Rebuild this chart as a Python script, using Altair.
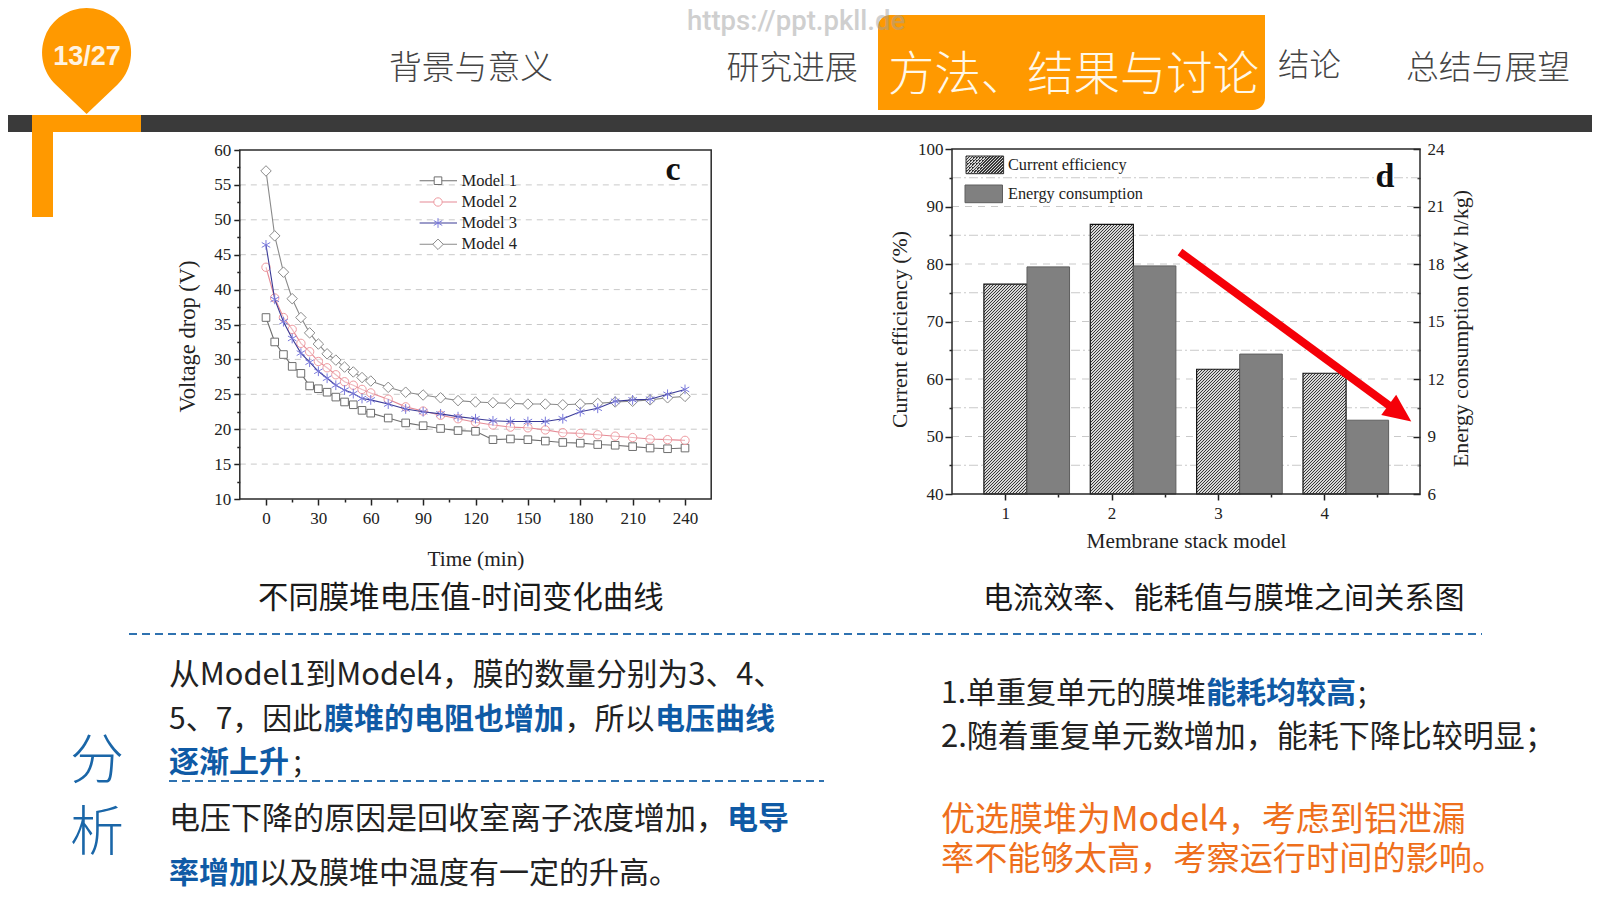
import altair as alt
import pandas as pd

# ---------- data ----------
times = [0,5,10,15,20,25,30,35,40,45,50,55,60,70,80,90,100,110,120,130,140,150,160,170,180,190,200,210,220,230,240]
model1 = [36,32.5,30.7,29,28,26.2,25.8,25.3,24.6,23.9,23.5,22.7,22.3,21.6,20.9,20.5,20.1,19.8,19.7,18.5,18.6,18.5,18.3,18.1,18.0,17.8,17.7,17.5,17.3,17.2,17.3]
model2 = [43.2,38.8,36,34.3,32.3,31.1,29.7,28.8,27.8,26.8,26.3,25.7,25.2,24.3,23.2,22.6,22,21.5,21,20.6,20.3,20.2,19.9,19.5,19.4,19.2,19,18.8,18.6,18.5,18.4]
model3 = [46.4,38.6,35.4,33,30.9,29.6,28.3,27.3,26.3,25.6,25.1,24.4,24.2,23.6,22.9,22.5,22.2,21.8,21.5,21.2,21.1,21.1,21.1,21.5,22.5,23,24,24.2,24.3,25,25.7]
model4 = [57,47.7,42.5,38.7,36,33.8,32.2,30.8,29.9,28.9,28.2,27.4,26.9,26,25.3,24.9,24.5,24.1,23.9,23.8,23.7,23.6,23.6,23.5,23.6,23.7,23.9,24,24.2,24.5,24.7]
stack_models = [1,2,3,4]
current_eff = [76.5,86.9,61.7,61.0]
energy = [17.85,17.9,13.3,9.85]

c_y_major = [10,15,20,25,30,35,40,45,50,55,60]
c_y_minor = [12.5,17.5,22.5,27.5,32.5,37.5,42.5,47.5,52.5,57.5]
c_x_major = [0,30,60,90,120,150,180,210,240]
c_x_minor = [15,45,75,105,135,165,195,225]
c_grid = [15,20,25,30,35,40,45,50,55]
d_y_major = [40,50,60,70,80,90,100]
d_y_minor = [45,55,65,75,85,95]
d_r_major = [6,9,12,15,18,21,24]
d_r_minor = [7.5,10.5,13.5,16.5,19.5,22.5]
d_x_minor = [1.5,2.5,3.5,4.5]
d_grid_major = [50,60,70,80,90]
d_grid_minor = [45,55,65,75,85,95]

nav = ["背景与意义","研究进展","方法、结果与讨论","结论","总结与展望"]
page_no = "13/27"
watermark = "https://ppt.pkll.de"
cap_c = "不同膜堆电压值-时间变化曲线"
cap_d = "电流效率、能耗值与膜堆之间关系图"

W, H = 1584, 892
SERIF = "Liberation Serif"
CJK = "Noto Sans CJK SC"
ORANGE = "#FF9900"
BLUE = "#0F5AA5"
DARK = "#222222"

def P(v):
    return v - 8

one = alt.Data(values=[{"a": 1}])
layers = []

def txt(s, x, y, size, color=DARK, weight=400, font=CJK, align="left", opacity=1):
    return alt.Chart(one).mark_text(fontSize=size, font=font, fontWeight=weight, color=color,
                                    align=align, baseline="middle", opacity=opacity).encode(
        x=alt.value(P(x)), y=alt.value(P(y)), text=alt.value(s))

def box(x0, x1, y0, y1, color, **kw):
    return alt.Chart(one).mark_rect(fill=color, **kw).encode(
        x=alt.value(P(x0)), x2=alt.value(P(x1)), y=alt.value(P(y0)), y2=alt.value(P(y1)))

def seg(x0, x1, y0, y1, color, width, **kw):
    return alt.Chart(one).mark_rule(color=color, strokeWidth=width, **kw).encode(
        x=alt.value(P(x0)), x2=alt.value(P(x1)), y=alt.value(P(y0)), y2=alt.value(P(y1)))

def glyph(shape, x, y, size, **kw):
    return alt.Chart(one).mark_point(shape=shape, size=size, **kw).encode(
        x=alt.value(P(x)), y=alt.value(P(y)))

# ---------- header ----------
layers += [
    box(0, 1600, 115, 132, "#3A3A3A"),
    box(32, 141, 115, 132, ORANGE),
    box(32, 53, 132, 217, ORANGE),
    glyph("M0,1L-0.58,0.448A0.84,0.84,0,1,1,0.58,0.448Z", 86.6, 61, 106**2, filled=True, fill=ORANGE, stroke=ORANGE, strokeWidth=0, opacity=1),
    txt(page_no, 87, 57, 27, "#FFF3E0", 700, "Liberation Sans", "center"),
    box(878, 1265, 15, 110, ORANGE, cornerRadiusTopLeft=12, cornerRadiusBottomRight=12),
    txt(nav[0], 389, 69, 32.8, "#444444", 300),
    txt(nav[1], 726.5, 69, 32.8, "#444444", 300),
    txt(nav[2], 888, 76, 46.4, "#FFF8E8", 300),
    txt(nav[3], 1278, 67, 31.4, "#444444", 300),
    txt(nav[4], 1406, 69, 32.8, "#444444", 300),
]

# ---------- panel c ----------
cxs = alt.Scale(domain=[-15, 255], range=[P(239.8), P(711.2)], nice=False, zero=False)
cys = alt.Scale(domain=[10, 60], range=[P(499), P(150)], nice=False, zero=False)

def axis_layer(xs, ys, xaxis=None, yaxis=None, xv=0, yv=0):
    d = pd.DataFrame({"x": [xv], "y": [yv]})
    return alt.Chart(d).mark_point(opacity=0).encode(
        x=alt.X("x:Q", scale=xs, axis=xaxis), y=alt.Y("y:Q", scale=ys, axis=yaxis))

def tick_axis(orient, off, values, size, labels=True, title=None, **kw):
    args = dict(orient=orient, offset=off, values=values, tickSize=size, labels=labels, grid=False,
                domain=False, tickColor=DARK, tickWidth=1.5, labelFont=SERIF, labelFontSize=17,
                labelColor=DARK, labelOverlap=False, titleFont=SERIF, titleFontWeight="normal", titleColor=DARK)
    if title is not None:
        args["title"] = title
    else:
        args["title"] = ""
    args.update(kw)
    return alt.Axis(**args)

def grid(values, xs, ys, x0, x1, dash, color="#C9C9C9", width=1):
    d = pd.DataFrame({"v": values, "x0": x0, "x1": x1})
    return alt.Chart(d).mark_rule(color=color, strokeDash=dash, strokeWidth=width).encode(
        x=alt.X("x0:Q", scale=xs, axis=None), x2="x1:Q", y=alt.Y("v:Q", scale=ys, axis=None))

def frame(xs, ys, x0, x1, y0, y1, width=1.5):
    d = pd.DataFrame({"x0": [x0], "x1": [x1], "y0": [y0], "y1": [y1]})
    return alt.Chart(d).mark_rect(fillOpacity=0, stroke="#2A2A2A", strokeWidth=width).encode(
        x=alt.X("x0:Q", scale=xs, axis=None), x2="x1:Q",
        y=alt.Y("y0:Q", scale=ys, axis=None), y2="y1:Q")

layers.append(grid(c_grid, cxs, cys, -15, 255, [6, 5]))

STAR = "M0,-1L0,1M-0.87,-0.5L0.87,0.5M-0.87,0.5L0.87,-0.5"
series = [
    ("Model 1", model1, "#6E6E6E", "square", 58, "#6E6E6E", "#FFFFFF", 1),
    ("Model 4", model4, "#8A8A8A", "diamond", 110, "#8A8A8A", "#FFFFFF", 1),
    ("Model 2", model2, "#E58A95", "circle", 70, "#EE9AA0", "#FFFFFF", 0.4),
    ("Model 3", model3, "#3A3A96", STAR, 95, "#7A7ADC", "#FFFFFF", 0),
]
for name, vals, lc, shape, size, mc, fc, fo in series:
    d = pd.DataFrame({"t": times, "v": vals})
    layers.append(alt.Chart(d).mark_line(color=lc, strokeWidth=1.1).encode(
        x=alt.X("t:Q", scale=cxs, axis=None), y=alt.Y("v:Q", scale=cys, axis=None)))
    layers.append(alt.Chart(d).mark_point(shape=shape, size=size, stroke=mc, strokeWidth=1, fill=fc,
                                          fillOpacity=fo, opacity=1).encode(
        x=alt.X("t:Q", scale=cxs, axis=None), y=alt.Y("v:Q", scale=cys, axis=None)))

layers.append(frame(cxs, cys, -15, 255, 10, 60))
layers.append(axis_layer(cxs, cys, yaxis=tick_axis("left", -P(239.8), c_y_major, 6, labelPadding=3,
                                                   title="Voltage drop (V)", titleFontSize=22.5, titlePadding=14,
                                                   titleY=P(336))))
layers.append(axis_layer(cxs, cys, yaxis=tick_axis("left", -P(239.8), c_y_minor, 3, labels=False)))
layers.append(axis_layer(cxs, cys, xaxis=tick_axis("bottom", P(499) - H, c_x_major, 6, labelPadding=5,
                                                   title="Time (min)", titleFontSize=21.3, titlePadding=22)))
layers.append(axis_layer(cxs, cys, xaxis=tick_axis("bottom", P(499) - H, c_x_minor, 3, labels=False)))

# legend c (order as in figure)
legend_rows = [("Model 1", "#6E6E6E", "square", 58, "#6E6E6E", 180.7),
               ("Model 2", "#E58A95", "circle", 70, "#EE9AA0", 202),
               ("Model 3", "#3A3A96", STAR, 95, "#7A7ADC", 223),
               ("Model 4", "#8A8A8A", "diamond", 110, "#8A8A8A", 244.3)]
for name, lc, shape, size, mc, y in legend_rows:
    layers.append(seg(419.6, 457, y, y, lc, 1.1))
    layers.append(glyph(shape, 438, y, size, stroke=mc, strokeWidth=1, fill="#FFFFFF", fillOpacity=0 if shape == STAR else 1, opacity=1))
    layers.append(txt(name, 461.5, y, 16.5, "#222222", 400, SERIF))
layers.append(txt("c", 673, 170, 34, "#111111", 700, SERIF, "center"))

# ---------- panel d ----------
dxs = alt.Scale(domain=[0.5, 4.9], range=[P(952), P(1420)], nice=False, zero=False)
dys = alt.Scale(domain=[40, 100], range=[P(494), P(149)], nice=False, zero=False)
drs = alt.Scale(domain=[6, 24], range=[P(494), P(149)], nice=False, zero=False)

layers.append(grid(d_grid_major, dxs, dys, 0.5, 4.9, [7, 6]))
layers.append(grid(d_grid_minor, dxs, dys, 0.5, 4.9, [9, 3, 2, 3]))

def hatch(w, h, period=3.0):
    # diagonal stripes with a whole-pixel period, so that they stay regular on the pixel grid
    n = int((w + h) / period) + 1
    stops = []
    for i in range(n):
        a, m, b = i / n, (i + 0.36) / n, (i + 1) / n
        stops += [alt.GradientStop(offset=round(a, 7), color="#383838"),
                  alt.GradientStop(offset=round(m, 7), color="#383838"),
                  alt.GradientStop(offset=round(m, 7), color="#D8D8D8"),
                  alt.GradientStop(offset=round(b, 7), color="#D8D8D8")]
    k = n * period * w * h / (w * w + h * h)
    return alt.LinearGradient(gradient="linear", stops=stops, x1=0, y1=0, x2=k / h, y2=k / w)

BAR_L = 0.2
BAR_M = 0.205
BAR_R = 0.605
for m, ce in zip(stack_models, current_eff):
    d = pd.DataFrame({"x0": [m - BAR_L], "x1": [m + BAR_M], "v": [ce], "b": [40]})
    bw = (BAR_L + BAR_M) * 106.36
    bh = (ce - 40) / 60 * 345
    layers.append(alt.Chart(d).mark_rect(fill=hatch(bw, bh), stroke="#111111", strokeWidth=1.2).encode(
        x=alt.X("x0:Q", scale=dxs, axis=None), x2="x1:Q",
        y=alt.Y("v:Q", scale=dys, axis=None), y2="b:Q"))
ec = pd.DataFrame({"m": stack_models, "v": energy, "b": 6})
ec["x0"] = ec["m"] + BAR_M
ec["x1"] = ec["m"] + BAR_R
layers.append(alt.Chart(ec).mark_rect(fill="#808080", stroke="#5E5E5E", strokeWidth=1).encode(
    x=alt.X("x0:Q", scale=dxs, axis=None), x2="x1:Q",
    y=alt.Y("v:Q", scale=drs, axis=None), y2="b:Q"))

layers.append(frame(dxs, dys, 0.5, 4.9, 40, 100))
layers.append(axis_layer(dxs, dys, yaxis=tick_axis("left", -P(952), d_y_major, 7, labelPadding=2,
                                                   title="Current efficiency (%)", titleFontSize=21.8, titlePadding=6,
                                                   titleY=P(329))))
layers.append(axis_layer(dxs, dys, yaxis=tick_axis("left", -P(952), d_y_minor, 3, labels=False)))
layers.append(axis_layer(dxs, dys, xaxis=tick_axis("bottom", P(494) - H, stack_models, 6, labelPadding=5,
                                                   title="Membrane stack model", titleFontSize=21.3, titlePadding=9),
                         xv=1, yv=40))
layers.append(axis_layer(dxs, dys, xaxis=tick_axis("bottom", P(494) - H, d_x_minor, 3, labels=False), xv=1, yv=40))
layers.append(axis_layer(dxs, drs, yaxis=tick_axis("right", P(1420) - W, d_r_major, 0, labelPadding=7,
                                                   title="Energy consumption (kW h/kg)", titleFontSize=21.9,
                                                   titleAngle=270, titleBaseline="top", titlePadding=6,
                                                   titleY=P(328)), xv=1, yv=6))
layers.append(axis_layer(dxs, drs, yaxis=tick_axis("left", -P(1420), d_r_major, 7, labels=False), xv=1, yv=6))
layers.append(axis_layer(dxs, drs, yaxis=tick_axis("left", -P(1420), d_r_minor, 3, labels=False), xv=1, yv=6))

# legend d
layers.append(alt.Chart(one).mark_rect(fill=hatch(37.6, 17.7), stroke="#333333", strokeWidth=1).encode(
    x=alt.value(P(966)), x2=alt.value(P(1003.6)), y=alt.value(P(156)), y2=alt.value(P(173.7))))
layers.append(box(965, 1002.5, 185, 202.7, "#808080", stroke="#5E5E5E", strokeWidth=1))
layers.append(txt("Current efficiency", 1008, 165, 16.3, DARK, 400, SERIF))
layers.append(txt("Energy consumption", 1008, 194, 16.3, DARK, 400, SERIF))
layers.append(txt("d", 1385, 177, 34, "#111111", 700, SERIF, "center"))

# red arrow
layers.append(seg(1180, 1400, 252, 413.5, "#F50008", 8))
layers.append(glyph("M1,0L-1,-0.9L-1,0.9Z", 1400, 413.2, 28**2, filled=True, fill="#F50008", stroke="#F50008",
                    strokeWidth=0, angle=36.3, opacity=1))

# ---------- captions and text ----------
layers += [
    txt(cap_c, 258, 599, 30.4, "#1A1A1A"),
    txt(cap_d, 983, 599, 30.1, "#1A1A1A"),
    seg(129, 1482, 634, 634, "#2F72B0", 2, strokeDash=[8, 5]),
    seg(169, 824, 781, 781, "#2F72B0", 2, strokeDash=[8, 5]),
    txt("分", 97, 763, 54, "#1A66A8", 300, CJK, "center"),
    txt("析", 97, 835, 54, "#1A66A8", 300, CJK, "center"),
    txt("从Model1到Model4，膜的数量分别为3、4、", 169, 676, 30.8),
    txt("5、7，因此", 169, 720, 30),
    txt("膜堆的电阻也增加", 324, 720, 30, BLUE, 700),
    txt("，所以", 564.5, 720, 30),
    txt("电压曲线", 655, 720, 30, BLUE, 700),
    txt("逐渐上升", 169, 763, 30, BLUE, 700),
    txt(";", 293.5, 763, 30),
    txt("电压下降的原因是回收室离子浓度增加，", 169, 820, 31),
    txt("电导", 727, 820, 31, BLUE, 700),
    txt("率增加", 169, 873.5, 30, BLUE, 700),
    txt("以及膜堆中温度有一定的升高。", 259, 873.5, 30),
    txt("1.单重复单元的膜堆", 941, 694, 30),
    txt("能耗均较高", 1206, 694, 30, BLUE, 700),
    txt(";", 1358, 694, 30),
    txt("2.随着重复单元数增加，能耗下降比较明显；", 941, 738, 31),
    txt("优选膜堆为Model4，考虑到铝泄漏", 941, 821, 34, "#EE6F1C"),
    txt("率不能够太高，考察运行时间的影响。", 941, 860, 33.2, "#EE6F1C"),
    txt(watermark, 687, 22, 27.5, "#A0A0A0", 500, "Roboto", "left", 0.5),
]

chart = alt.layer(*layers).resolve_scale(x="independent", y="independent").resolve_axis(
    x="independent", y="independent"
).properties(width=W, height=H, padding=0, autosize=alt.AutoSizeParams(type="none")
).configure_view(strokeWidth=0)

chart.save("out.html", embed_options={"renderer": "svg", "actions": False})
